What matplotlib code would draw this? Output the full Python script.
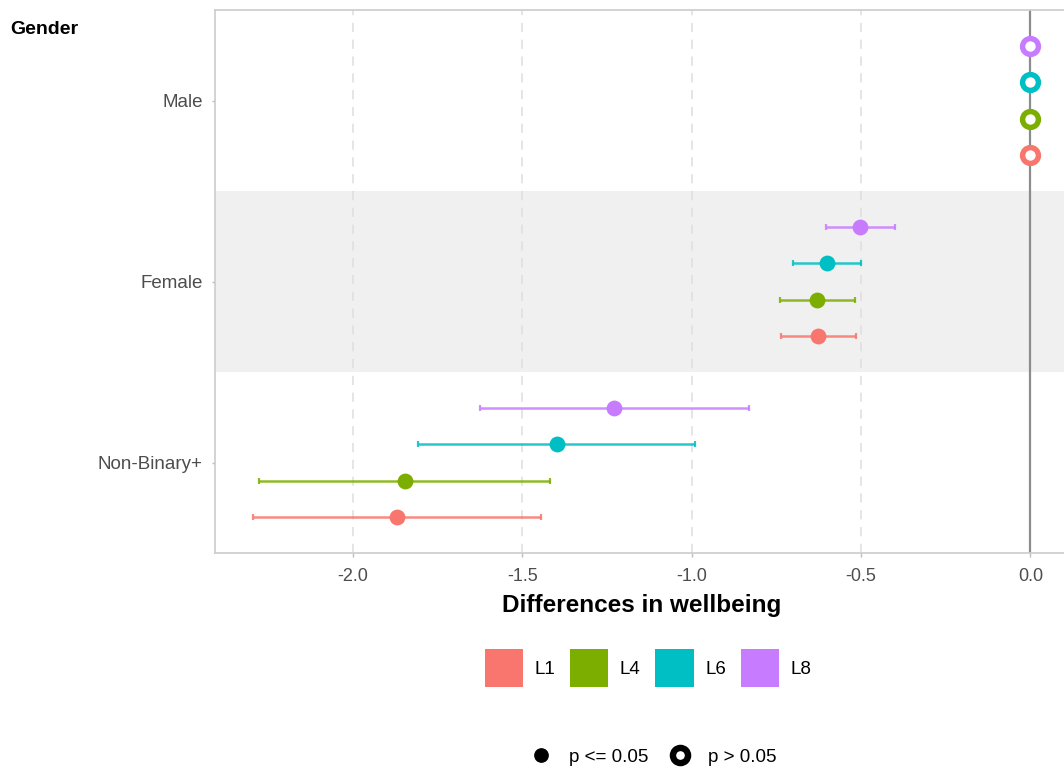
import numpy as np
import matplotlib
matplotlib.use('Agg')
import matplotlib.pyplot as plt
from matplotlib.patches import Patch
from matplotlib.lines import Line2D

plt.rcParams['font.family'] = ['Liberation Sans', 'DejaVu Sans']

# Model estimates by gender (reference = Male) for each level
groups = ['Male', 'Female', 'Non-Binary+']
levels = ['L1', 'L4', 'L6', 'L8']
colors = ['#F8766D', '#7CAE00', '#00BFC4', '#C77CFF']

estimate = [
    [0.0, 0.0, 0.0, 0.0],
    [-0.626, -0.629, -0.600, -0.502],
    [-1.872, -1.848, -1.399, -1.230],
]
ci_low = [
    [0.0, 0.0, 0.0, 0.0],
    [-0.736, -0.739, -0.700, -0.603],
    [-2.295, -2.277, -1.808, -1.626],
]
ci_high = [
    [0.0, 0.0, 0.0, 0.0],
    [-0.514, -0.517, -0.500, -0.399],
    [-1.444, -1.418, -0.990, -0.832],
]
significant = [
    [False, False, False, False],
    [True, True, True, True],
    [True, True, True, True],
]

x_ticks = [-2.0, -1.5, -1.0, -0.5, 0.0]
dodge = [-0.3, -0.1, 0.1, 0.3]

fig = plt.figure(figsize=(10.64, 7.71), dpi=100)
ax = fig.add_axes([0.2021, 0.2827, 0.801, 0.7043])

n = len(groups)
ypos = {g: n - i for i, g in enumerate(groups)}

# alternating band behind the middle group
ax.axhspan(1.5, 2.5, color='#f0f0f0', zorder=0, lw=0)

for xt in x_ticks[:-1]:
    ax.axvline(xt, color='#dedede', lw=1.1, ls=(0, (6, 5)), zorder=1)
ax.axvline(0, color='#8c8c8c', lw=1.6, zorder=2)

for gi, g in enumerate(groups):
    for li, lv in enumerate(levels):
        y = ypos[g] + dodge[li]
        est = estimate[gi][li]
        lo, hi = ci_low[gi][li], ci_high[gi][li]
        c = colors[li]
        if hi > lo:
            ax.errorbar(est, y, xerr=[[est - lo], [hi - est]], fmt='none',
                        ecolor=c, elinewidth=1.8, capsize=2, capthick=1.6,
                        alpha=0.85, zorder=3)
        if significant[gi][li]:
            ax.plot(est, y, 'o', color=c, ms=11.4, mew=0, zorder=4)
        else:
            ax.plot(est, y, 'o', mfc='white', mec=c, ms=11.4, mew=3.9, zorder=4)

ax.set_xlim(-2.408, 0.109)
ax.set_ylim(0.5, 3.5)
ax.set_xticks(x_ticks)
ax.set_xticklabels([f'{t:.1f}' for t in x_ticks])
ax.set_yticks([ypos[g] for g in groups])
ax.set_yticklabels(groups)
ax.tick_params(axis='x', colors='#bdbdbd', labelcolor='#4d4d4d',
               labelsize=13, length=3, width=1, pad=8)
ax.tick_params(axis='y', colors='#bdbdbd', labelcolor='#4d4d4d',
               labelsize=13.5, length=2, width=1, pad=7)

for side in ['left', 'top', 'bottom']:
    ax.spines[side].set_color('#cccccc')
    ax.spines[side].set_linewidth(1.2)
ax.spines['right'].set_visible(False)

ax.set_xlabel('Differences in wellbeing', fontsize=17.5, fontweight='bold',
              labelpad=6)
fig.text(10 / 1064, 1 - 29 / 771, 'Gender', fontsize=14, fontweight='bold',
         ha='left', va='center')

# colour legend
level_handles = [Patch(facecolor=c, edgecolor='none', label=lv)
                 for c, lv in zip(colors, levels)]
fig.legend(handles=level_handles, loc='center', ncol=4, frameon=False,
           bbox_to_anchor=(648 / 1064, 1 - 668 / 771), fontsize=13.5,
           handlelength=2.05, handleheight=2.75, handletextpad=0.6,
           columnspacing=0.8, borderpad=0)

# significance legend
sig_handles = [
    Line2D([0], [0], marker='o', ls='none', color='black', ms=10.6, mew=0,
           label='p <= 0.05'),
    Line2D([0], [0], marker='o', ls='none', mfc='white', mec='black', ms=10.9,
           mew=4.6, label='p > 0.05'),
]
fig.legend(handles=sig_handles, loc='center', ncol=2, frameon=False,
           bbox_to_anchor=(653 / 1064, 1 - 757 / 771), fontsize=13.5,
           handlelength=1.2, handletextpad=0.9, columnspacing=1.1, borderpad=0)

fig.savefig('out.png', dpi=100)
plt.close(fig)
